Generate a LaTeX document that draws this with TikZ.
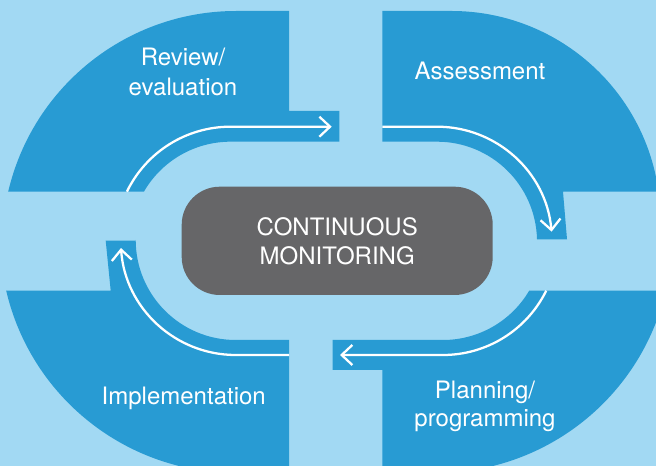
\documentclass[tikz,border=0pt]{standalone}
\usepackage{fontspec}
\setmainfont{TeX Gyre Heros}
\usetikzlibrary{arrows.meta}
\definecolor{bgblue}{HTML}{A2D9F3}
\definecolor{midblue}{HTML}{289BD3}
\definecolor{boxgray}{HTML}{666668}
\tikzset{
  piece/.style={fill=midblue},
  flow/.style={draw=white, line width=1.7pt, -{Straight Barb[length=8pt,width=15pt]}},
  lbl/.style={text=white, inner sep=0pt, align=center, font=\fontsize{18}{22}\selectfont},
  cmbox/.style={fill=boxgray, text=white, inner sep=0pt, align=center,
    minimum width=233.25pt, minimum height=81.2pt, rounded corners=28.5pt,
    font=\fontsize{18}{21.75}\selectfont}
}
\begin{document}
\begin{tikzpicture}[x=0.75pt,y=0.75pt]
\useasboundingbox (0,0) rectangle (656,466);
\clip (0,0) rectangle (656,466);
\fill[bgblue] (0,0) rectangle (656,466);
% top-left piece
\fill[piece] (8.2,274.3) arc[start angle=166.83, end angle=90, radius=234] -- (289,455) -- (289,355) -- (339.3,355) -- (339.3,324.3) -- (230.5,324.3) arc[start angle=90, end angle=150, radius=100] -- cycle;
% top-right piece
\fill[piece] (382.3,455) -- (451.4,455) arc[start angle=90, end angle=7.8, radius=209.1] -- (563,274.3) -- (567,226.7) -- (537,226.7) arc[start angle=1.375, end angle=90, radius=100] -- (382.3,324.3) -- cycle;
% bottom-right piece
\fill[piece] (529.2,175.3) -- (665.8,175.3) arc[start angle=-13.17, end angle=-90, radius=236] -- (382.3,-7) -- (382.3,96) -- (332.7,96) -- (332.7,126) -- (443,126) arc[start angle=-90, end angle=-30.5, radius=100] -- cycle;
% bottom-left piece
\fill[piece] (6.2,175.3) arc[start angle=193.17, end angle=270, radius=236] -- (289,-7) -- (289,126) -- (235.7,126) arc[start angle=270, end angle=180, radius=100] -- (135.7,225.3) -- (105.7,225.3) -- (110.7,175.3) -- cycle;
% arrows
\coordinate (a1s) at (126.9,274.3);
\coordinate (a1e) at (331.7,339.3);
\draw[flow] (a1s) arc[start angle=154.23, end angle=90, radius=115] -- (a1e);
\coordinate (a2s) at (382.3,339.3);
\coordinate (a2m) at (437,339.3);
\draw[flow] (a2s) -- (a2m) arc[start angle=90, end angle=5, radius=115];
\coordinate (a3s) at (546.2,175.3);
\coordinate (a3e) at (340,111);
\draw[flow] (a3s) arc[start angle=-26.16, end angle=-90, radius=115] -- (a3e);
\coordinate (a4s) at (289,111);
\coordinate (a4m) at (235.7,111);
\draw[flow] (a4s) -- (a4m) arc[start angle=270, end angle=184, radius=115];
% centre
\node[cmbox] (cm) at (337.2,225.15) {CONTINUOUS\\MONITORING};
% labels
\node[lbl] (rev) at (183,393.9) {Review/\\evaluation};
\node[lbl, anchor=base] (ass) at (480,386) {Assessment};
\node[lbl, font=\fontsize{18}{21.3}\selectfont] (plan) at (485,59.6) {Planning/\\programming};
\node[lbl, anchor=base] (imp) at (183.7,61) {Implementation};
\end{tikzpicture}
\end{document}
